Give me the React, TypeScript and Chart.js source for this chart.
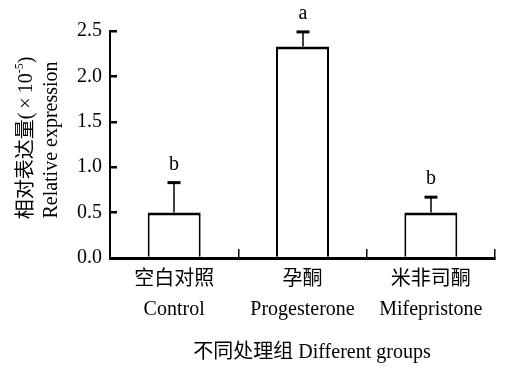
import React, { useEffect, useRef } from "react";
import { Chart, registerables } from "chart.js";

Chart.register(...registerables);

const categories: string[][] = [
  ["空白对照", "Control"],
  ["孕酮", "Progesterone"],
  ["米非司酮", "Mifepristone"],
];
const means: number[] = [0.5, 2.33, 0.5];
const errors: number[] = [0.33, 0.16, 0.17];
const letters: string[] = ["b", "a", "b"];
const yMin = 0;
const yMax = 2.5;
const yStep = 0.5;
const yTitleCn = "相对表达量(\u2009×\u200910";
const yTitleSup = "-5";
const yTitleEnd = ")";
const yTitleEn = "Relative expression";
const xTitle = "不同处理组 Different groups";

const FONT = '"Liberation Serif", "Noto Sans CJK SC", serif';

const annotate = {
  id: "annotate",
  afterDatasetsDraw(chart: any) {
    const ctx = chart.ctx as CanvasRenderingContext2D;
    const y = chart.scales.y;
    const meta = chart.getDatasetMeta(0);
    ctx.save();
    ctx.strokeStyle = "#000";
    ctx.fillStyle = "#000";
    meta.data.forEach((el: any, i: number) => {
      const x = Math.round(el.x);
      const yTop = y.getPixelForValue(means[i]);
      const yErr = y.getPixelForValue(means[i] + errors[i]);
      ctx.lineWidth = 1.5;
      ctx.beginPath();
      ctx.moveTo(x, yTop);
      ctx.lineTo(x, yErr);
      ctx.stroke();
      ctx.lineWidth = 3;
      ctx.beginPath();
      ctx.moveTo(x - 6.5, yErr);
      ctx.lineTo(x + 6.5, yErr);
      ctx.stroke();
      ctx.font = `20px ${FONT}`;
      ctx.textAlign = "center";
      ctx.textBaseline = "alphabetic";
      ctx.fillText(letters[i], x, yErr - 13);
    });
    ctx.restore();
  },
  afterDraw(chart: any) {
    const ctx = chart.ctx as CanvasRenderingContext2D;
    ctx.save();
    ctx.fillStyle = "#000";
    ctx.textBaseline = "middle";
    ctx.save();
    ctx.translate(27, 138);
    ctx.rotate(-Math.PI / 2);
    ctx.font = `20px ${FONT}`;
    const w1 = ctx.measureText(yTitleCn).width;
    ctx.font = `12px ${FONT}`;
    const w2 = ctx.measureText(yTitleSup).width;
    ctx.font = `20px ${FONT}`;
    const w3 = ctx.measureText(yTitleEnd).width;
    let sx = -(w1 + w2 + w3) / 2;
    ctx.textAlign = "left";
    ctx.fillText(yTitleCn, sx, 0);
    sx += w1;
    ctx.font = `12px ${FONT}`;
    ctx.fillText(yTitleSup, sx, -7);
    sx += w2;
    ctx.font = `20px ${FONT}`;
    ctx.fillText(yTitleEnd, sx, 0);
    ctx.restore();
    ctx.save();
    ctx.translate(52, 140);
    ctx.rotate(-Math.PI / 2);
    ctx.font = `20px ${FONT}`;
    ctx.textAlign = "center";
    ctx.fillText(yTitleEn, 0, 0);
    ctx.restore();
    ctx.font = `20px ${FONT}`;
    ctx.textAlign = "center";
    ctx.fillText(xTitle, 312, 353);
    ctx.restore();
  },
};

export default function App() {
  const ref = useRef<HTMLCanvasElement>(null);
  useEffect(() => {
    if (!ref.current) return;
    const chart = new Chart(ref.current, {
      type: "bar",
      data: {
        labels: categories,
        datasets: [
          {
            data: means,
            backgroundColor: "#fff",
            borderColor: "#000",
            borderWidth: { top: 3, left: 2, right: 2, bottom: 0 },
            borderSkipped: "bottom",
            categoryPercentage: 1,
            barPercentage: 0.413,
          },
        ],
      },
      options: {
        responsive: false,
        animation: false,
        devicePixelRatio: 1,
        layout: { padding: { top: 31, right: 11, left: 0, bottom: 0 } },
        plugins: {
          legend: { display: false },
          tooltip: { enabled: false },
        },
        scales: {
          x: {
            offset: true,
            grid: {
              offset: true,
              drawOnChartArea: false,
              drawTicks: true,
              tickLength: -9,
              color: "#000",
              lineWidth: 1.5,
            },
            border: { display: true, color: "#000", width: 3 },
            ticks: {
              color: "#000",
              font: { family: FONT, size: 20, lineHeight: 1.5 },
              padding: 16,
              maxRotation: 0,
              autoSkip: false,
            },
            afterFit: (s: any) => {
              s.height = 110;
            },
          },
          y: {
            min: yMin,
            max: yMax,
            grid: {
              drawOnChartArea: false,
              drawTicks: true,
              tickLength: -7,
              color: "#000",
              lineWidth: 2.5,
            },
            border: { display: true, color: "#000", width: 2 },
            ticks: {
              stepSize: yStep,
              color: "#000",
              font: { family: FONT, size: 20 },
              padding: 15,
              callback: (v: any) => Number(v).toFixed(1),
            },
            afterFit: (s: any) => {
              s.width = 110;
            },
          },
        },
      },
      plugins: [annotate],
    });
    return () => chart.destroy();
  }, []);
  return (
    <div style={{ position: "fixed", left: 0, top: 0, width: 506, height: 368, background: "#fff" }}>
      <canvas ref={ref} width={506} height={368} />
    </div>
  );
}
